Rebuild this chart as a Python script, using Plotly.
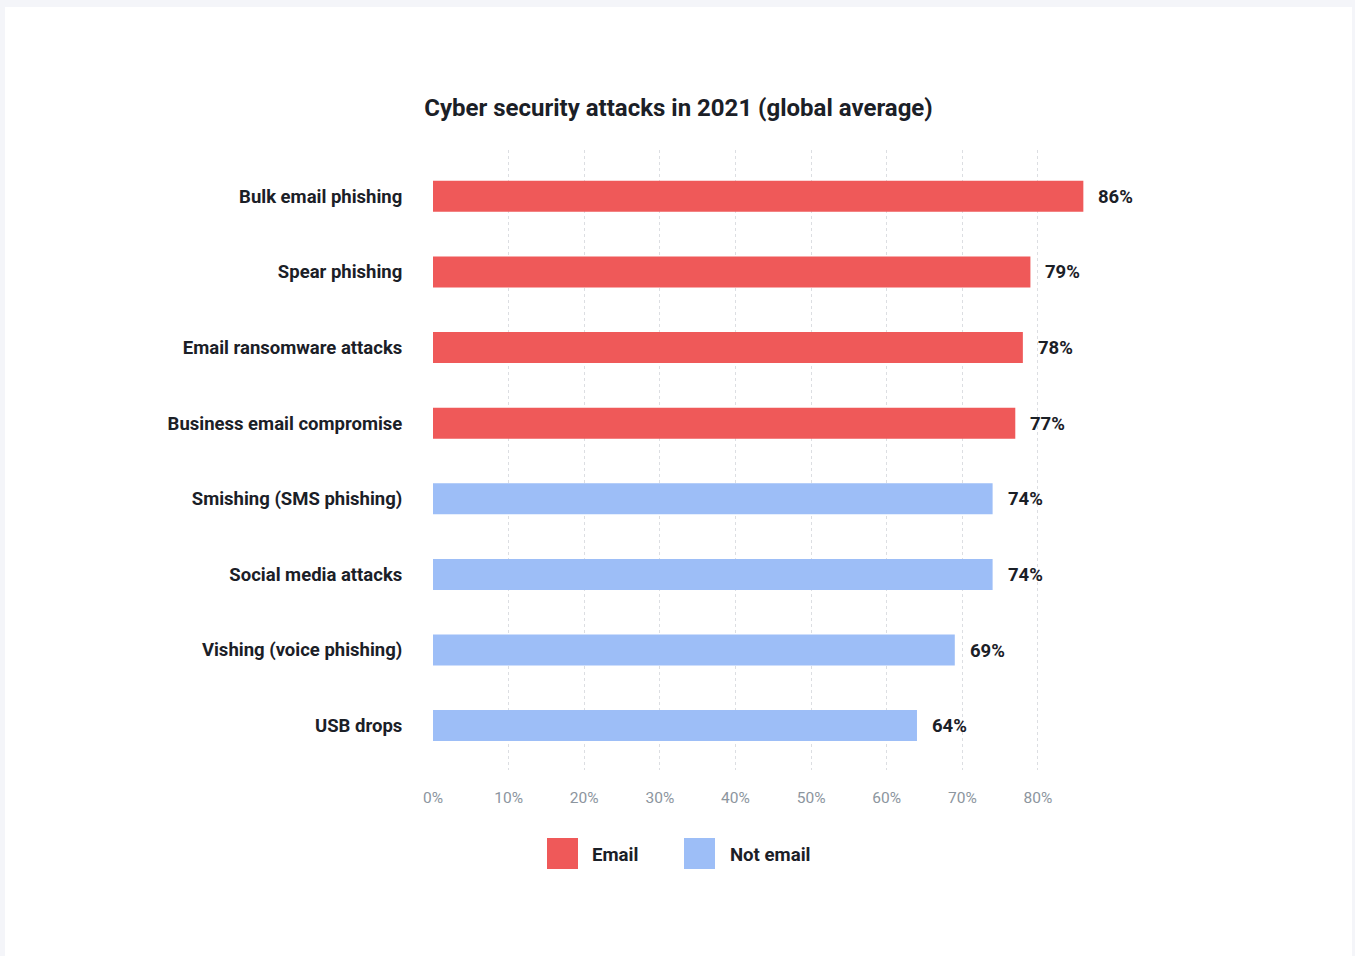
import plotly.graph_objects as go

categories = ["Bulk email phishing", "Spear phishing", "Email ransomware attacks",
              "Business email compromise", "Smishing (SMS phishing)", "Social media attacks",
              "Vishing (voice phishing)", "USB drops"]
values = [86, 79, 78, 77, 74, 74, 69, 64]
groups = ["Email", "Email", "Email", "Email", "Not email", "Not email", "Not email", "Not email"]
series_names = ["Email", "Not email"]
series_colors = {"Email": "#EF5959", "Not email": "#9DBEF7"}
x_ticks = [0, 10, 20, 30, 40, 50, 60, 70, 80]
x_tick_labels = [f"{t}%" for t in x_ticks]
title = "Cyber security attacks in 2021 (global average)"

W, H = 1355, 956
L, R, T, B = 433, 1086, 150, 770
xmax = 86.35

def px_x(px):
    return (px - L) / (R - L)

def px_y(py):
    return (B - py) / (B - T)

fig = go.Figure()
fig.add_trace(go.Bar(
    y=categories, x=values, orientation="h",
    marker=dict(color=[series_colors[g] for g in groups], line=dict(width=0)),
    width=0.41, showlegend=False, hoverinfo="x+y",
))

annotations = []
for c, v in zip(categories, values):
    annotations.append(dict(x=v, y=c, xref="x", yref="y", text=f"<b>{v}%</b>",
                            showarrow=False, xanchor="left", xshift=13, yshift=-0.5,
                            font=dict(size=18.5, color="#1b2027", family="Roboto")))

# custom legend
leg_sq = [(547, 578), (684, 715)]
leg_txt = [590, 728]
shapes = [dict(type="rect", xref="paper", yref="paper", x0=px_x(5), x1=px_x(1352),
               y0=px_y(7), y1=px_y(960), fillcolor="white", line=dict(width=0), layer="below")]
for name, (a, b), tx in zip(series_names, leg_sq, leg_txt):
    shapes.append(dict(type="rect", xref="paper", yref="paper", x0=px_x(a), x1=px_x(b),
                       y0=px_y(838), y1=px_y(869), fillcolor=series_colors[name],
                       line=dict(width=0)))
    annotations.append(dict(x=px_x(tx), y=px_y(855), xref="paper", yref="paper",
                            text=f"<b>{name}</b>", showarrow=False, xanchor="left",
                            yanchor="middle", font=dict(size=18.6, color="#1b2027", family="Roboto")))

fig.update_layout(
    width=W, height=H,
    margin=dict(l=L, r=W - R, t=T, b=H - B, pad=0),
    paper_bgcolor="#F4F5F9", plot_bgcolor="rgba(0,0,0,0)",
    font=dict(family="Roboto", color="#1b2027"),
    title=dict(text=f"<b>{title}</b>", x=678.5 / W, xanchor="center",
               y=1 - 108 / H, yanchor="middle", font=dict(size=24, color="#1b2027", family="Roboto")),
    shapes=shapes, annotations=annotations,
    bargap=0.59,
)
fig.update_xaxes(range=[0, xmax], tickvals=x_ticks, ticktext=x_tick_labels,
                 showgrid=True, gridcolor="#dcdee2", griddash="dot", gridwidth=1,
                 zeroline=False, showline=False, ticks="outside", ticklen=13,
                 tickcolor="rgba(0,0,0,0)", tickfont=dict(size=15.5, color="#8c959e", family="Roboto"))
fig.update_yaxes(categoryorder="array", categoryarray=categories, range=[7.587, -0.613],
                 showgrid=False, zeroline=False, showline=False, ticks="outside", ticklen=26,
                 tickcolor="rgba(0,0,0,0)",
                 tickfont=dict(size=18.5, color="#1b2027", family="Roboto"))
fig.update_yaxes(tickvals=categories, ticktext=[f"<b>{c}</b>" for c in categories])

fig.write_html("out.html")
